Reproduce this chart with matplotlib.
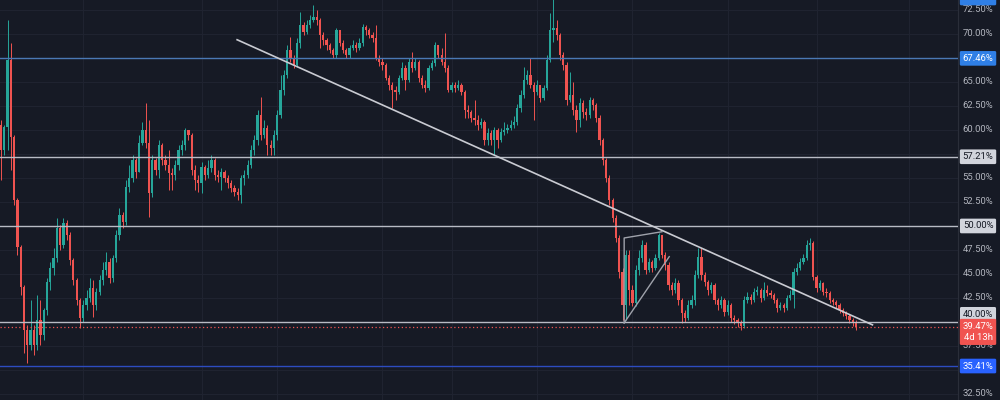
import numpy as np
import matplotlib
matplotlib.use('Agg')
import matplotlib.pyplot as plt

plt.rcParams['font.family'] = ['Roboto', 'DejaVu Sans']

# candle data (percent), open of each candle = previous close
first_open = 60.52
closes = [
    57.92, 60.31, 67.29, 59.27, 52.71, 47.81, 43.64, 39.17, 37.60, 39.17,
    37.60, 40.21, 38.64, 41.25, 44.17, 45.62, 46.67, 49.79, 48.02, 50.31,
    49.06, 46.46, 44.37, 42.29, 40.42, 41.77, 42.50, 43.54, 41.77, 43.12,
    44.37, 45.42, 46.25, 44.58, 46.67, 49.06, 51.14, 50.42, 54.06, 55.00,
    56.87, 55.62, 58.64, 60.00, 58.64, 53.44, 56.87, 55.83, 58.44, 56.87,
    56.35, 55.52, 55.31, 56.35, 57.92, 58.44, 60.00, 59.48, 55.83, 54.79,
    54.48, 56.14, 55.31, 56.04, 56.87, 55.31, 55.10, 55.62, 55.00, 54.48,
    53.96, 53.54, 53.23, 55.00, 55.31, 56.35, 57.92, 58.96, 61.56, 59.48,
    60.21, 58.44, 58.12, 59.48, 61.56, 64.17, 65.73, 68.33, 67.50, 66.77,
    69.06, 70.94, 70.21, 70.94, 71.46, 71.77, 71.46, 69.90, 69.37, 68.85,
    68.33, 67.81, 70.42, 69.06, 68.33, 67.81, 68.54, 68.85, 68.54, 69.06,
    70.73, 70.42, 69.90, 69.58, 67.50, 67.08, 66.77, 65.42, 64.69, 64.17,
    63.96, 65.42, 66.46, 65.21, 67.08, 66.46, 67.08, 65.42, 64.69, 64.37,
    66.46, 66.98, 68.85, 67.81, 67.08, 66.46, 64.17, 64.69, 64.37, 64.69,
    63.96, 62.08, 61.87, 61.25, 61.04, 60.52, 60.83, 58.96, 59.69, 58.96,
    60.00, 58.96, 59.79, 60.00, 60.21, 60.52, 60.83, 62.29, 63.64, 65.21,
    65.73, 64.69, 63.96, 64.69, 63.33, 64.37, 67.29, 70.42, 70.62, 69.90,
    67.81, 66.77, 63.12, 63.64, 62.08, 61.04, 62.81, 61.87, 61.56, 63.12,
    62.60, 61.25, 58.96, 56.87, 55.00, 52.71, 50.83, 48.75, 45.21, 41.77,
    46.98, 43.33, 41.98, 45.42, 46.67, 48.02, 45.42, 46.25, 45.62, 46.67,
    49.06, 46.98, 45.94, 43.85, 43.33, 44.06, 42.29, 40.94, 40.42, 41.77,
    42.29, 44.89, 46.77, 44.89, 44.17, 43.33, 43.85, 42.29, 41.77, 42.29,
    41.04, 41.77, 40.42, 40.21, 39.89, 39.58, 42.29, 42.60, 42.29, 43.12,
    43.33, 42.50, 43.33, 43.02, 42.81, 42.29, 41.46, 41.77, 41.46, 42.50,
    42.81, 45.21, 45.62, 46.25, 46.67, 48.02, 48.23, 44.69, 43.54, 44.06,
    43.12, 43.02, 42.29, 42.08, 41.77, 41.25, 40.94, 40.62, 40.21, 40.00,
    39.47,
]
highs = [
    61.04, 60.52, 71.46, 69.06, 59.48, 52.91, 48.02, 43.85, 39.69, 42.29,
    39.69, 42.81, 42.29, 41.46, 44.58, 46.25, 47.71, 50.83, 50.10, 50.83,
    50.62, 49.37, 46.67, 44.58, 42.50, 42.29, 43.33, 44.58, 44.37, 43.54,
    44.89, 46.25, 47.29, 46.67, 46.98, 49.58, 51.87, 51.46, 54.79, 56.35,
    57.40, 57.08, 59.48, 60.83, 62.81, 61.04, 57.40, 57.08, 58.96, 58.64,
    57.40, 57.92, 56.04, 56.87, 58.44, 58.96, 60.21, 59.79, 59.69, 56.35,
    55.31, 56.67, 56.35, 56.87, 57.40, 57.08, 55.83, 56.04, 55.83, 55.31,
    54.79, 54.27, 53.96, 55.31, 55.83, 56.87, 58.44, 59.48, 62.08, 63.44,
    61.04, 60.52, 58.96, 60.00, 62.08, 65.73, 66.25, 68.85, 69.69, 67.81,
    69.58, 72.29, 71.25, 71.46, 71.98, 73.02, 72.50, 71.67, 70.21, 69.58,
    69.06, 68.54, 70.62, 70.42, 69.37, 68.54, 68.85, 69.37, 69.17, 69.58,
    71.04, 70.94, 70.62, 70.21, 70.94, 67.81, 67.50, 66.98, 65.73, 65.00,
    64.58, 65.73, 67.08, 66.77, 67.50, 68.12, 67.50, 67.29, 65.73, 65.21,
    66.77, 67.29, 69.17, 68.85, 68.54, 70.10, 66.77, 65.00, 65.00, 65.21,
    64.90, 64.17, 62.60, 62.08, 63.12, 61.56, 61.25, 61.04, 60.21, 60.00,
    60.31, 60.21, 60.21, 60.83, 60.62, 61.04, 61.46, 62.71, 64.17, 66.56,
    66.25, 67.50, 65.00, 65.21, 64.69, 64.69, 67.81, 72.19, 73.75, 71.46,
    70.10, 68.12, 67.08, 66.04, 65.00, 62.60, 63.33, 63.12, 62.29, 63.44,
    63.33, 62.81, 61.56, 59.17, 57.08, 55.31, 52.91, 51.14, 49.06, 45.62,
    47.50, 47.50, 43.85, 45.94, 47.50, 48.54, 48.33, 46.67, 46.46, 47.08,
    49.27, 48.75, 47.29, 46.25, 44.17, 44.58, 44.37, 42.50, 41.25, 42.29,
    42.81, 45.42, 47.71, 47.71, 45.21, 44.37, 44.17, 44.06, 42.50, 42.71,
    42.50, 42.29, 41.98, 40.73, 40.42, 40.21, 42.71, 43.12, 42.92, 43.54,
    43.75, 43.54, 44.17, 43.85, 43.33, 43.02, 42.50, 42.08, 41.98, 42.81,
    43.33, 45.62, 46.14, 46.67, 47.08, 48.54, 48.75, 48.44, 44.89, 44.37,
    44.17, 43.54, 43.23, 42.50, 42.29, 41.98, 41.46, 41.14, 40.83, 40.42,
    40.21,
]
lows = [
    54.79, 57.40, 57.92, 55.83, 52.18, 46.98, 42.81, 36.77, 35.73, 37.08,
    36.56, 37.08, 37.60, 38.12, 40.73, 43.33, 44.89, 46.25, 47.50, 47.71,
    48.54, 45.94, 43.85, 41.77, 39.37, 40.00, 41.25, 42.08, 40.52, 41.25,
    42.81, 43.85, 44.89, 44.06, 44.17, 46.25, 48.54, 49.79, 50.10, 53.54,
    54.58, 55.00, 55.62, 58.44, 58.12, 50.94, 53.02, 55.31, 55.00, 56.35,
    55.83, 53.75, 53.75, 54.79, 55.83, 57.40, 57.92, 58.96, 55.31, 53.75,
    53.54, 53.44, 54.79, 55.00, 55.62, 54.79, 54.58, 53.75, 54.58, 53.96,
    53.54, 53.12, 52.71, 52.39, 54.27, 55.00, 56.04, 57.40, 58.44, 58.96,
    59.17, 57.40, 57.40, 57.40, 58.96, 61.25, 63.64, 65.42, 67.08, 66.46,
    66.56, 68.54, 69.90, 70.00, 70.62, 71.25, 70.94, 68.54, 68.85, 68.33,
    68.02, 67.50, 67.50, 68.75, 68.02, 67.50, 67.50, 68.33, 68.12, 68.33,
    68.75, 69.90, 69.58, 69.17, 67.29, 66.67, 66.25, 65.21, 64.17, 62.29,
    63.12, 63.75, 65.21, 64.17, 65.00, 66.04, 66.25, 65.00, 64.37, 63.96,
    64.17, 66.25, 66.67, 67.50, 66.77, 66.04, 63.96, 63.96, 63.96, 64.17,
    63.64, 61.25, 61.25, 60.83, 60.52, 60.00, 60.21, 58.44, 58.44, 58.44,
    57.40, 58.12, 58.75, 59.48, 59.69, 60.00, 60.21, 60.52, 61.87, 63.33,
    64.79, 64.37, 61.04, 63.64, 62.92, 63.12, 64.17, 67.08, 69.17, 69.37,
    67.29, 66.25, 62.60, 62.92, 61.56, 59.79, 60.31, 61.25, 61.04, 61.25,
    62.08, 60.83, 58.44, 56.35, 54.58, 52.18, 50.42, 48.33, 44.58, 40.21,
    40.21, 41.77, 41.67, 41.67, 44.89, 46.25, 45.00, 45.21, 45.21, 45.42,
    46.46, 46.67, 45.42, 43.33, 42.81, 43.02, 41.77, 39.89, 40.00, 40.21,
    41.46, 41.77, 44.58, 44.37, 43.75, 42.81, 43.02, 41.87, 41.25, 41.46,
    40.62, 40.73, 40.00, 39.79, 39.48, 39.17, 39.37, 41.98, 41.87, 42.08,
    42.81, 42.08, 42.29, 42.71, 42.50, 41.98, 41.04, 41.25, 41.04, 41.25,
    42.29, 41.46, 44.89, 45.42, 46.04, 46.46, 47.50, 44.37, 43.12, 43.33,
    42.81, 42.60, 41.98, 41.77, 41.46, 40.94, 40.62, 40.31, 39.89, 39.58,
    39.17,
]

# drawn levels and labels
gray_levels = [57.21, 50.00, 40.00]
blue_level_top = 67.46
blue_level_bottom = 35.41
last_price = 39.47
countdown = '4d 13h'
tick_values = [72.5, 70.0, 65.0, 62.5, 60.0, 55.0, 52.5, 47.5, 45.0, 42.5, 37.5, 32.5]

# trendline and pattern drawing (candle index, percent)
trend_x = [71.8, 265.0]
trend_y = [69.4, 39.7]
pattern_x = [201.0, 189.5, 189.5, 203.2]
pattern_y = [49.4, 48.75, 39.9, 46.8]
vgrid_idx = [25, 61, 84, 116, 137, 163, 192, 221, 248, 276]

bg = '#161a25'
grid_c = '#1f2330'
up_c = '#26a69a'
down_c = '#ef5350'
text_c = '#b2b5be'

opens = [first_open] + closes[:-1]
o = np.array(opens)
c = np.array(closes)
h = np.array(highs)
l = np.array(lows)
x = np.arange(len(c))

fig = plt.figure(figsize=(10, 4), dpi=100, facecolor=bg)
ax = fig.add_axes([0, 0, 0.958, 1])
ax.set_facecolor(bg)

# scale: first candle ~1px, last candle ~856px from the left
px_per = 855 / (len(c) - 1)
ax.set_xlim(-1 / px_per, 957 / px_per)
ax.set_ylim(31.87, 73.54)

# grid
all_ticks = np.arange(32.5, 73.0, 2.5)
for t in all_ticks:
    ax.axhline(t, color=grid_c, lw=0.8, zorder=0)
for v in vgrid_idx:
    ax.axvline(v, color=grid_c, lw=0.8, zorder=0)

# candles
col = np.where(c >= o, up_c, down_c)
ax.vlines(x, l, h, colors=col, lw=0.7, zorder=3)
body_bottom = np.minimum(o, c)
body_h = np.maximum(np.abs(c - o), 0.08)
ax.bar(x, body_h, bottom=body_bottom, width=0.68, color=col, lw=0, zorder=4)

# horizontal levels
for lv in gray_levels:
    ax.axhline(lv, color='#b8bbc4', lw=1.0, zorder=5)
ax.axhline(blue_level_top, color='#4a78b4', lw=1.0, zorder=5)
ax.axhline(blue_level_bottom, color='#2d4cc0', lw=1.0, zorder=5)
ax.axhline(last_price, color=down_c, lw=0.9, ls=(0, (1, 2)), zorder=5)

# drawings
ax.plot(trend_x, trend_y, color='#c9cbd2', lw=1.2, zorder=6)
ax.plot(pattern_x[:3], pattern_y[:3], color='#9fa2ab', lw=1.0, zorder=6)
ax.plot([pattern_x[2], pattern_x[3]], [pattern_y[2], pattern_y[3]], color='#9fa2ab', lw=1.0, zorder=6)

for s in ['top', 'left', 'bottom']:
    ax.spines[s].set_visible(False)
ax.spines['right'].set_color('#2a2e39')
ax.set_xticks([])
ax.set_yticks([])

# price scale labels
tr = ax.get_yaxis_transform()
lx = 1.0209
fs = 6.8
for t in tick_values:
    ax.text(lx, t, f'{t:.2f}%', transform=tr, ha='center', va='center',
            color=text_c, fontsize=fs, clip_on=False, zorder=7)


def box_label(val, txt, fc, tc, dy=0.0):
    ax.annotate(txt, xy=(lx, val), xycoords=tr, xytext=(0, dy), textcoords='offset points',
                ha='center', va='center', color=tc, fontsize=fs, annotation_clip=False,
                linespacing=1.35, zorder=9,
                bbox=dict(boxstyle='round,pad=0.3,rounding_size=0.15', fc=fc, ec='none'))


box_label(73.75, '73.68%', '#2f7fe6', 'white')
box_label(blue_level_top, f'{blue_level_top:.2f}%', '#2f7fe6', 'white')
box_label(57.21, '57.21%', '#d1d4dc', '#131722')
box_label(50.00, '50.00%', '#d1d4dc', '#131722')
box_label(40.00, '40.00%', '#d1d4dc', '#131722', dy=5.5)
box_label(last_price, f'{last_price:.2f}%\n{countdown}', '#f05350', 'white', dy=-3.5)
box_label(blue_level_bottom, f'{blue_level_bottom:.2f}%', '#2962ff', 'white')

fig.savefig('out.png', dpi=100, facecolor=bg)
